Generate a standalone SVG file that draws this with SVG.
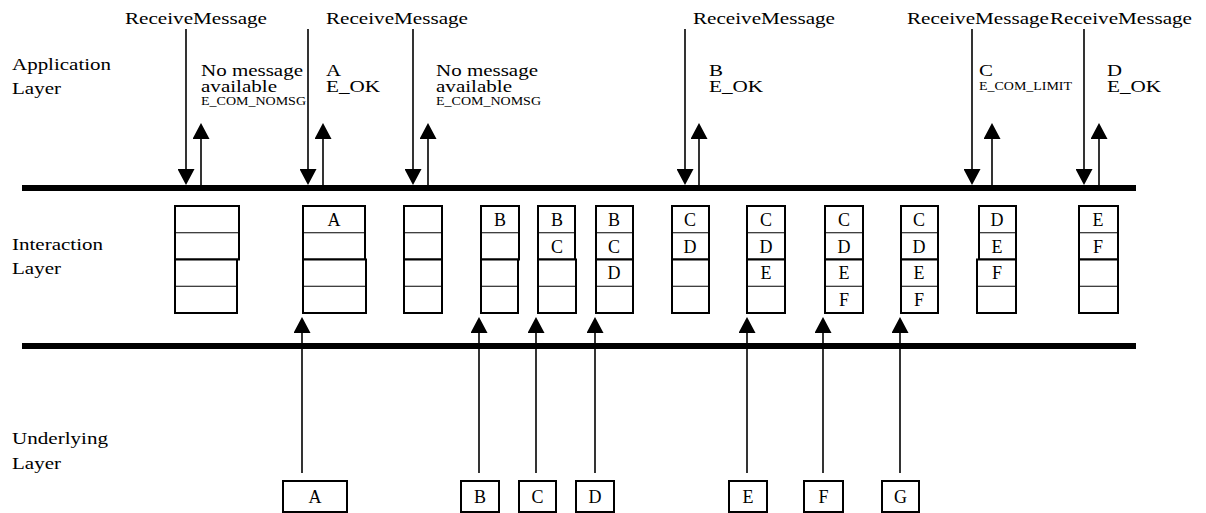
<svg xmlns="http://www.w3.org/2000/svg" width="1206" height="513" viewBox="0 0 1206 513">
<style>
text{font-family:"Liberation Serif","Times New Roman",serif;fill:#000}
.big{font-size:17.5px}
.small{font-size:12px}
.cell{font-size:18px;text-anchor:middle}
.q{fill:#fff;stroke:#000;stroke-width:2}
.div{stroke:#000;stroke-width:1.2}
.bar{fill:#000}
.arr{stroke:#000;stroke-width:1.6;fill:none;marker-end:url(#ah)}
.ub{fill:#fff;stroke:#000;stroke-width:2}
.ul{font-size:18px;text-anchor:middle}
</style>
<defs>
<marker id="ah" markerUnits="userSpaceOnUse" markerWidth="17" markerHeight="17" viewBox="0 0 16 17" refX="12" refY="8.5" orient="auto">
<path d="M0,0 L16,8.5 L0,17 Z" fill="#000"/>
</marker>
</defs>
<rect width="1206" height="513" fill="#fff"/>

<g id="layer-labels">
<text class="big" x="12" y="70" textLength="99" lengthAdjust="spacingAndGlyphs">Application</text>
<text class="big" x="12" y="94" textLength="49" lengthAdjust="spacingAndGlyphs">Layer</text>
<text class="big" x="12" y="250" textLength="91" lengthAdjust="spacingAndGlyphs">Interaction</text>
<text class="big" x="12" y="274" textLength="49" lengthAdjust="spacingAndGlyphs">Layer</text>
<text class="big" x="12" y="444" textLength="96" lengthAdjust="spacingAndGlyphs">Underlying</text>
<text class="big" x="12" y="469" textLength="49" lengthAdjust="spacingAndGlyphs">Layer</text>
</g>

<g id="bars">
<rect class="bar" x="22" y="185" width="1114" height="6"/>
<rect class="bar" x="22" y="343" width="1114" height="6"/>
</g>

<g id="call-labels">
<text class="big" x="125" y="24" textLength="142" lengthAdjust="spacingAndGlyphs">ReceiveMessage</text>
<text class="big" x="326" y="24" textLength="142" lengthAdjust="spacingAndGlyphs">ReceiveMessage</text>
<text class="big" x="693" y="24" textLength="142" lengthAdjust="spacingAndGlyphs">ReceiveMessage</text>
<text class="big" x="907" y="24" textLength="142" lengthAdjust="spacingAndGlyphs">ReceiveMessage</text>
<text class="big" x="1050" y="24" textLength="142" lengthAdjust="spacingAndGlyphs">ReceiveMessage</text>

<text class="big" x="201" y="76" textLength="102" lengthAdjust="spacingAndGlyphs">No message</text>
<text class="big" x="201" y="92" textLength="76" lengthAdjust="spacingAndGlyphs">available</text>
<text class="small" x="201" y="105" textLength="105" lengthAdjust="spacingAndGlyphs">E_COM_NOMSG</text>

<text class="big" x="326" y="76" textLength="15" lengthAdjust="spacingAndGlyphs">A</text>
<text class="big" x="326" y="92" textLength="54" lengthAdjust="spacingAndGlyphs">E_OK</text>

<text class="big" x="436" y="76" textLength="102" lengthAdjust="spacingAndGlyphs">No message</text>
<text class="big" x="436" y="92" textLength="76" lengthAdjust="spacingAndGlyphs">available</text>
<text class="small" x="436" y="105" textLength="105" lengthAdjust="spacingAndGlyphs">E_COM_NOMSG</text>

<text class="big" x="709" y="76" textLength="14" lengthAdjust="spacingAndGlyphs">B</text>
<text class="big" x="709" y="92" textLength="54" lengthAdjust="spacingAndGlyphs">E_OK</text>

<text class="big" x="979" y="76" textLength="14" lengthAdjust="spacingAndGlyphs">C</text>
<text class="small" x="979" y="90" textLength="93" lengthAdjust="spacingAndGlyphs">E_COM_LIMIT</text>

<text class="big" x="1107" y="76" textLength="15" lengthAdjust="spacingAndGlyphs">D</text>
<text class="big" x="1107" y="92" textLength="54" lengthAdjust="spacingAndGlyphs">E_OK</text>
</g>

<g id="connectors">
<line class="arr" x1="186" y1="29" x2="186" y2="181"/>
<line class="arr" x1="308" y1="29" x2="308" y2="181"/>
<line class="arr" x1="413" y1="29" x2="413" y2="181"/>
<line class="arr" x1="685" y1="29" x2="685" y2="181"/>
<line class="arr" x1="972" y1="29" x2="972" y2="181"/>
<line class="arr" x1="1084" y1="29" x2="1084" y2="181"/>
<line class="arr" x1="201" y1="185" x2="201" y2="127"/>
<line class="arr" x1="323" y1="185" x2="323" y2="127"/>
<line class="arr" x1="428" y1="185" x2="428" y2="127"/>
<line class="arr" x1="699" y1="185" x2="699" y2="127"/>
<line class="arr" x1="992" y1="185" x2="992" y2="127"/>
<line class="arr" x1="1099" y1="185" x2="1099" y2="127"/>
<line class="arr" x1="302" y1="473" x2="302" y2="321"/>
<line class="arr" x1="479" y1="473" x2="479" y2="321"/>
<line class="arr" x1="536" y1="473" x2="536" y2="321"/>
<line class="arr" x1="595" y1="473" x2="595" y2="321"/>
<line class="arr" x1="747" y1="473" x2="747" y2="321"/>
<line class="arr" x1="823" y1="473" x2="823" y2="321"/>
<line class="arr" x1="900" y1="473" x2="900" y2="321"/>
</g>

<g id="queue1">
<rect class="q" x="175" y="206" width="64" height="53.5"/>
<rect class="q" x="175" y="259.5" width="62" height="53.5"/>
<line class="div" x1="175" y1="232.75" x2="239" y2="232.75"/>
<line class="div" x1="175" y1="286.25" x2="237" y2="286.25"/>
</g>
<g id="queue2">
<rect class="q" x="303" y="206" width="62" height="53.5"/>
<rect class="q" x="303" y="259.5" width="63" height="53.5"/>
<line class="div" x1="303" y1="232.75" x2="365" y2="232.75"/>
<line class="div" x1="303" y1="286.25" x2="366" y2="286.25"/>
<text class="cell" x="334" y="226">A</text>
</g>
<g id="queue3">
<rect class="q" x="404" y="206" width="38" height="53.5"/>
<rect class="q" x="404" y="259.5" width="38" height="53.5"/>
<line class="div" x1="404" y1="232.75" x2="442" y2="232.75"/>
<line class="div" x1="404" y1="286.25" x2="442" y2="286.25"/>
</g>
<g id="queue4">
<rect class="q" x="481" y="206" width="38" height="53.5"/>
<rect class="q" x="481" y="259.5" width="37" height="53.5"/>
<line class="div" x1="481" y1="232.75" x2="519" y2="232.75"/>
<line class="div" x1="481" y1="286.25" x2="518" y2="286.25"/>
<text class="cell" x="500" y="226">B</text>
</g>
<g id="queue5">
<rect class="q" x="538" y="206" width="37" height="53.5"/>
<rect class="q" x="538" y="259.5" width="38" height="53.5"/>
<line class="div" x1="538" y1="232.75" x2="575" y2="232.75"/>
<line class="div" x1="538" y1="286.25" x2="576" y2="286.25"/>
<text class="cell" x="557" y="226">B</text>
<text class="cell" x="557" y="253">C</text>
</g>
<g id="queue6">
<rect class="q" x="596" y="206" width="37" height="53.5"/>
<rect class="q" x="596" y="259.5" width="37" height="53.5"/>
<line class="div" x1="596" y1="232.75" x2="633" y2="232.75"/>
<line class="div" x1="596" y1="286.25" x2="633" y2="286.25"/>
<text class="cell" x="614" y="226">B</text>
<text class="cell" x="614" y="253">C</text>
<text class="cell" x="614" y="279">D</text>
</g>
<g id="queue7">
<rect class="q" x="672" y="206" width="37" height="53.5"/>
<rect class="q" x="672" y="259.5" width="37" height="53.5"/>
<line class="div" x1="672" y1="232.75" x2="709" y2="232.75"/>
<line class="div" x1="672" y1="286.25" x2="709" y2="286.25"/>
<text class="cell" x="690" y="226">C</text>
<text class="cell" x="690" y="253">D</text>
</g>
<g id="queue8">
<rect class="q" x="747" y="206" width="38" height="53.5"/>
<rect class="q" x="747" y="259.5" width="38" height="53.5"/>
<line class="div" x1="747" y1="232.75" x2="785" y2="232.75"/>
<line class="div" x1="747" y1="286.25" x2="785" y2="286.25"/>
<text class="cell" x="766" y="226">C</text>
<text class="cell" x="766" y="253">D</text>
<text class="cell" x="766" y="279">E</text>
</g>
<g id="queue9">
<rect class="q" x="825" y="206" width="38" height="53.5"/>
<rect class="q" x="825" y="259.5" width="38" height="53.5"/>
<line class="div" x1="825" y1="232.75" x2="863" y2="232.75"/>
<line class="div" x1="825" y1="286.25" x2="863" y2="286.25"/>
<text class="cell" x="844" y="226">C</text>
<text class="cell" x="844" y="253">D</text>
<text class="cell" x="844" y="279">E</text>
<text class="cell" x="844" y="306">F</text>
</g>
<g id="queue10">
<rect class="q" x="901" y="206" width="37" height="53.5"/>
<rect class="q" x="901" y="259.5" width="37" height="53.5"/>
<line class="div" x1="901" y1="232.75" x2="938" y2="232.75"/>
<line class="div" x1="901" y1="286.25" x2="938" y2="286.25"/>
<text class="cell" x="919" y="226">C</text>
<text class="cell" x="919" y="253">D</text>
<text class="cell" x="919" y="279">E</text>
<text class="cell" x="919" y="306">F</text>
</g>
<g id="queue11">
<rect class="q" x="979" y="206" width="37" height="53.5"/>
<rect class="q" x="977" y="259.5" width="39" height="53.5"/>
<line class="div" x1="979" y1="232.75" x2="1016" y2="232.75"/>
<line class="div" x1="977" y1="286.25" x2="1016" y2="286.25"/>
<text class="cell" x="997" y="226">D</text>
<text class="cell" x="997" y="253">E</text>
<text class="cell" x="997" y="279">F</text>
</g>
<g id="queue12">
<rect class="q" x="1079" y="206" width="39" height="53.5"/>
<rect class="q" x="1079" y="259.5" width="39" height="53.5"/>
<line class="div" x1="1079" y1="232.75" x2="1118" y2="232.75"/>
<line class="div" x1="1079" y1="286.25" x2="1118" y2="286.25"/>
<text class="cell" x="1098" y="226">E</text>
<text class="cell" x="1098" y="253">F</text>
</g>

<g id="msgA"><rect class="ub" x="283" y="481" width="64" height="31"/><text class="ul" x="315" y="503">A</text></g>
<g id="msgB"><rect class="ub" x="461" y="481" width="38" height="31"/><text class="ul" x="480" y="503">B</text></g>
<g id="msgC"><rect class="ub" x="519" y="481" width="37" height="31"/><text class="ul" x="537.5" y="503">C</text></g>
<g id="msgD"><rect class="ub" x="576" y="481" width="38" height="31"/><text class="ul" x="595" y="503">D</text></g>
<g id="msgE"><rect class="ub" x="729" y="481" width="38" height="31"/><text class="ul" x="748" y="503">E</text></g>
<g id="msgF"><rect class="ub" x="804" y="481" width="39" height="31"/><text class="ul" x="823.5" y="503">F</text></g>
<g id="msgG"><rect class="ub" x="882" y="481" width="37" height="31"/><text class="ul" x="900.5" y="503">G</text></g>
</svg>
